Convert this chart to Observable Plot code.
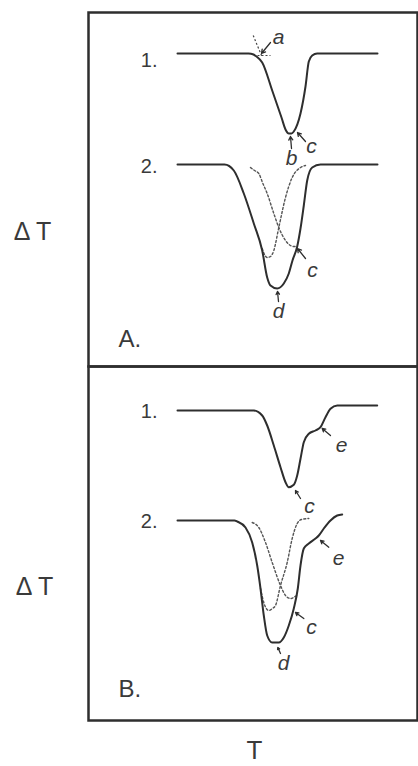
<!DOCTYPE html>
<html><head><meta charset="utf-8">
<script src="https://cdn.jsdelivr.net/npm/d3@7"></script>
<script src="https://cdn.jsdelivr.net/npm/@observablehq/plot@0.6"></script>
<style>
html,body{margin:0;padding:0;background:#fff;}
svg{display:block;}
</style></head><body><div id="chart"></div>
<script>
// ---- Panel A, trace 1 (single peak) ----
const tA1 = [89,160,165,168,173.7,183.7,193,197,200.3,203,205.3,212,217,220.3,223.7,228.7,289];
const dA1 = [0,0,-0.1,-0.3,-0.9,-3.7,-6.4,-7.6,-8.0,-8.0,-7.8,-6.0,-3.3,-0.8,-0.2,0,0];
// ---- Panel A, trace 2 (overlapping peaks, sum) ----
const tA2 = [89,136,145.3,155.3,165.3,173.7,178.7,182,188.7,195.3,200.3,204,208.7,212,215.3,218.7,223.7,232,289];
const dA2 = [0,0,-0.6,-2.9,-5.9,-8.6,-11.3,-12.1,-12.4,-11.9,-10.9,-9.6,-8.2,-6.4,-4.1,-1.6,-0.3,0,0];
// component peaks (dotted)
const tA2p1 = [173.7,176,178.7,182,185.3,190.3,197,203.7,212,217];
const dA2p1 = [-8.4,-9.0,-9.3,-9.2,-8.6,-6.3,-3.3,-1.3,-0.3,-0.1];
const tA2p2 = [162,166,170.3,174,178.7,185.3,190.3,197,202,205,208.7];
const dA2p2 = [-0.3,-0.6,-0.9,-1.8,-2.9,-4.9,-6.3,-7.6,-8.1,-8.2,-8.2];
// ---- Panel B, trace 1 ----
const tB1 = [89,165.3,173.7,178.7,185.3,192,197,200.3,205.3,208.7,212,215.3,220.3,227,232,237,242,248.7,288.7];
const dB1 = [0,0,-0.5,-1.5,-3.5,-5.67,-7.17,-7.67,-7.43,-6.5,-4.83,-3.17,-2.33,-2.0,-1.67,-0.67,0.17,0.5,0.5];
// ---- Panel B, trace 2 ----
const tB2 = [89,146,148.7,157,163.7,168.7,172,175.3,178.7,183.7,190.3,195.3,200.3,205.3,209.3,212,215.3,220.3,227,230.3,235.3,242,248.7,253.7];
const dB2 = [0,0,-0.1,-0.7,-2.2,-4.5,-6.8,-9.5,-11.5,-12.2,-12.2,-11.7,-10.5,-8.8,-6.8,-4.5,-2.8,-2.3,-1.8,-1.5,-0.8,0,0.5,0.6];
const tB2p1 = [172,175.3,180.3,184,187,192,198.7,203.7,208.7,213,220.3];
const dB2p1 = [-6.8,-8.2,-9.0,-8.8,-8.5,-6.5,-4.2,-1.8,-0.3,0.1,0.2];
const tB2p2 = [163.7,170.3,177,183.7,192,197,202,205,208];
const dB2p2 = [-0.2,-0.7,-2.2,-4.2,-6.5,-7.5,-7.8,-7.7,-7.5];

// labels
const traceLabels = ["1.","2.","1.","2."];
const traceLabelPanel = ["A","A","B","B"];
const traceLabelT = [69,69,69,69];
const traceLabelY = [5.2,-5.4,5.5,-5.5];

const letters = ["a","b","c","c","d","e","c","e","c","d"];
const letterPanel = ["A","A","A","A","A","B","B","B","B","B"];
const letterT = [190,203,223,224,190,253,221,250,223,195];
const letterY = [7.5,-4.6,-3.4,-15.8,-19.9,2.1,-4.0,-9.2,-16.1,-19.7];

const arrowPanel = ["A","A","A","A","A","B","B","B","B","B"];
const arrowT1 = [182,203,217,217,190,242,212,240.3,215.3,192];
const arrowY1 = [7.0,-3.6,-2.9,-14.6,-18.9,3.1,-3.2,-8.07,-15.2,-18.7];
const arrowT2 = [173,202,209,209,189,233.7,207,232,207,189.3];
const arrowY2 = [5.9,-2.4,-2.0,-13.6,-17.9,3.8,-2.4,-7.4,-14.6,-18.1];

// onset construction (dashed tangent and baseline extension), panel A trace 1
const guideT1 = [164.7,169];
const guideY1 = [7.7,5.7];
const guideT2 = [173.7,182];
const guideY2 = [5.53,5.7];

const panelNames = ["A.","B."];
const panels = ["A","B"];
const panelLabelT = [30,30];
const panelLabelY = [-22.7,-22.3];

const axisLabelY = ["Δ T","Δ T"];
const axisLabelYT = [-56,-54];
const axisLabelYY = [-11.9,-12.0];
const axisLabelX = "T";
const axisLabelXT = 166;
const axisLabelXY = -28.4;

// baseline offsets of stacked traces (layout)
const offsets = {A1: 5.9, A2: -5.2, B1: 5.6, B2: -5.4};

function rows(id, panel, T, d) {
  return T.map((t, i) => ({id, panel, T: t, y: d[i] + offsets[id.slice(0,2)]}));
}
const solid = [
  ...rows("A1", "A", tA1, dA1),
  ...rows("A2", "A", tA2, dA2),
  ...rows("B1", "B", tB1, dB1),
  ...rows("B2", "B", tB2, dB2)
];
const dotted = [
  ...rows("A2p1", "A", tA2p1, dA2p1),
  ...rows("A2p2", "A", tA2p2, dA2p2),
  ...rows("B2p1", "B", tB2p1, dB2p1),
  ...rows("B2p2", "B", tB2p2, dB2p2)
];
const tl = traceLabels.map((s, i) => ({s, panel: traceLabelPanel[i], T: traceLabelT[i], y: traceLabelY[i]}));
const ll = letters.map((s, i) => ({s, panel: letterPanel[i], T: letterT[i], y: letterY[i]}));
const ar = arrowPanel.map((p, i) => ({panel: p, x1: arrowT1[i], y1: arrowY1[i], x2: arrowT2[i], y2: arrowY2[i]}));
const gl = guideT1.map((t, i) => ({panel: "A", x1: t, y1: guideY1[i], x2: guideT2[i], y2: guideY2[i]}));
const pl = panelNames.map((s, i) => ({s, panel: panels[i], T: panelLabelT[i], y: panelLabelY[i]}));
const yl = axisLabelY.map((s, i) => ({s, panel: panels[i], T: axisLabelYT[i], y: axisLabelYY[i]}));
const xl = [{s: axisLabelX, panel: "B", T: axisLabelXT, y: axisLabelXY}];

const ink = "#2e2e2e";
const plot = Plot.plot({
  width: 418, height: 766,
  marginLeft: 88, marginRight: 1, marginTop: 12, marginBottom: 46,
  x: {domain: [0, 329], axis: null},
  y: {domain: [-25.4, 10], axis: null},
  fy: {domain: ["A", "B"], axis: null, padding: 0},
  style: {fontFamily: "'Liberation Sans', Arial, sans-serif", color: ink, background: "#fff", overflow: "visible"},
  marks: [
    Plot.frame({stroke: ink, strokeWidth: 2.5}),
    Plot.line(dotted, {x: "T", y: "y", z: "id", fy: "panel", curve: "monotone-x", stroke: "#555", strokeWidth: 1.4, strokeDasharray: "2,2.2"}),
    Plot.line(solid, {x: "T", y: "y", z: "id", fy: "panel", curve: "monotone-x", stroke: ink, strokeWidth: 2}),
    Plot.link(gl, {x1: "x1", y1: "y1", x2: "x2", y2: "y2", fy: "panel", stroke: "#444", strokeWidth: 1.2, strokeDasharray: "2,2"}),
    Plot.arrow(ar, {x1: "x1", y1: "y1", x2: "x2", y2: "y2", fy: "panel", stroke: ink, strokeWidth: 1.3, headLength: 5, bend: 0}),
    Plot.text(tl, {x: "T", y: "y", text: "s", fy: "panel", textAnchor: "end", fontSize: 20, fill: "#3a3a3a"}),
    Plot.text(ll, {x: "T", y: "y", text: "s", fy: "panel", fontSize: 21, fontStyle: "italic", fill: "#3a3a3a"}),
    Plot.text(pl, {x: "T", y: "y", text: "s", fy: "panel", textAnchor: "start", fontSize: 24, fill: "#3a3a3a"}),
    Plot.text(yl, {x: "T", y: "y", text: "s", fy: "panel", fontSize: 25, fill: "#3a3a3a"}),
    Plot.text(xl, {x: "T", y: "y", text: "s", fy: "panel", fontSize: 26, fill: "#3a3a3a"})
  ]
});
document.getElementById("chart").appendChild(plot);
</script>
</body></html>
